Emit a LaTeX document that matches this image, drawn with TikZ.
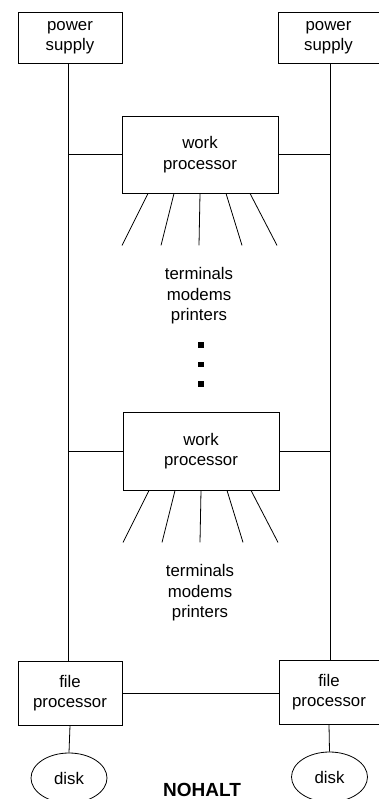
\documentclass[tikz,border=0pt]{standalone}
\usepackage{fontspec}
\setmainfont{Liberation Sans}
\usetikzlibrary{shapes.geometric,calc}
\begin{document}
\begin{tikzpicture}[x=1pt,y=-1pt,
  line width=0.8pt,
  lbl/.style={font=\fontsize{16.8}{20.5}\selectfont,align=center},
  unit/.style={draw,rectangle,lbl,inner sep=0pt},
  disk/.style={draw,ellipse,lbl,inner sep=0pt,minimum width=76pt,minimum height=50pt},
  dotmark/.style={fill=black,inner sep=0pt,minimum size=5.5pt},
  wire/.style={draw,line width=0.8pt}]
\useasboundingbox (0,0) rectangle (379,799);

% power supplies
\node[unit,minimum width=104pt,minimum height=51pt] (psL) at (70,37.5) {power\\supply};
\node[unit,minimum width=101pt,minimum height=51pt] (psR) at (328.5,37.5) {power\\supply};

% work processors
\node[unit,minimum width=156pt,minimum height=77pt] (wp1) at (200,154.5) {work\\processor};
\node[unit,minimum width=156pt,minimum height=78pt] (wp2) at (201,451) {work\\processor};

% file processors
\node[unit,minimum width=104pt,minimum height=64pt] (fpL) at (70,693) {file\\processor};
\node[unit,minimum width=100pt,minimum height=64pt] (fpR) at (329,692) {file\\processor};

% disks
\node[disk] (dkL) at (69,778) {disk};
\node[disk] (dkR) at (329.5,777) {disk};

% bus positions
\coordinate (busL) at (68,0);
\coordinate (busR) at (330,0);

% power buses
\draw[wire] (psL.south -| busL) -- (fpL.north -| busL);
\draw[wire] (psR.south -| busR) -- (fpR.north -| busR);

% work processors onto the buses
\draw[wire] (wp1.west) -- (wp1.west -| busL);
\draw[wire] (wp1.east) -- (wp1.east -| busR);
\draw[wire] (wp2.west) -- (wp2.west -| busL);
\draw[wire] (wp2.east) -- (wp2.east -| busR);

% file processor link and disks
\draw[wire] (fpL.east) -- (fpL.east -| fpR.west);
\draw[wire] (fpL.south) -- (dkL.north);
\draw[wire] (fpR.south) -- (dkR.north);

% device fans
\foreach \w in {wp1,wp2}{
  \draw[wire] ($(\w.south)+(-52,0)$) -- ++(-26,52);
  \draw[wire] ($(\w.south)+(-26,0)$) -- ++(-13,52);
  \draw[wire] ($(\w.south)+(0,0)$) -- ++(-1,52);
  \draw[wire] ($(\w.south)+(26,0)$) -- ++(16,52);
  \draw[wire] ($(\w.south)+(50,0)$) -- ++(27,52);
}

% device labels
\node[lbl] (dev1) at (199,296) {terminals\\modems\\printers};
\node[lbl] (dev2) at (200,593) {terminals\\modems\\printers};

% continuation marks
\node[dotmark] (d1) at (201,345) {};
\node[dotmark] (d2) at (201,364.5) {};
\node[dotmark] (d3) at (201,384) {};

% caption
\node[anchor=base,font=\fontsize{19}{22}\selectfont\bfseries,inner sep=0pt] (cap) at (202,796.5) {NOHALT};
\end{tikzpicture}
\end{document}
